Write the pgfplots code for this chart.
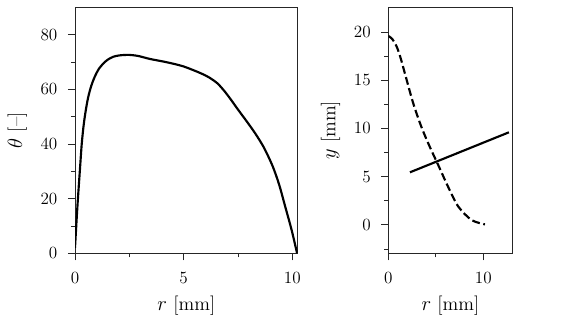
\documentclass[border=0pt]{standalone}
\usepackage{pgfplots}
\pgfplotsset{compat=1.18}
\pgfplotsset{mpl/.style={
  scale only axis,
  axis line style={black!85, line width=0.7pt},
  tick pos=left, tick align=outside,
  major tick length=4.9pt, minor tick length=2.8pt,
  every tick/.style={black!85, line width=0.6pt},
  tick label style={font=\fontsize{12}{14}\selectfont},
  xticklabel style={yshift=-5pt},
  yticklabel style={xshift=-3.9pt},
  label style={font=\fontsize{13.5}{16}\selectfont},
}}
\begin{document}
\begin{tikzpicture}[x=1pt,y=1pt]
\useasboundingbox (0,0) rectangle (399,226.1);
\begin{axis}[mpl,
  at={(52.5pt,48.8pt)}, anchor=south west,
  width=155.9pt, height=172.2pt,
  xmin=0, xmax=10.25, ymin=0, ymax=90,
  xtick={0,5,10}, minor xtick={2.5,7.5},
  ytick={0,20,40,60,80}, minor ytick={10,30,50,70},
  xlabel={$r$ [mm]}, ylabel={$\theta$ [--]},
  xlabel style={at={(axis description cs:0.5,-0.232)}, anchor=base},
  ylabel style={at={(axis description cs:-0.237,0.5)}, anchor=base, rotate=0},
]
\addplot[black, line width=1.5pt, smooth, tension=0.5] coordinates {
  (0,2) (0.11,17) (0.23,31) (0.31,40) (0.4,47) (0.5,52.5) (0.61,57.2)
  (0.75,61.3) (0.92,64.8) (1.1,67.5) (1.3,69.4) (1.5,70.8) (1.76,71.9)
  (2.05,72.4) (2.45,72.6) (2.9,72.2) (3.45,71.1) (4.22,69.9) (4.98,68.4)
  (5.75,66) (6.2,64.2) (6.55,62.2) (6.85,59.6) (7.15,56.5) (7.5,52.6)
  (7.9,48.3) (8.3,43.8) (8.7,38.6) (9.1,31.8) (9.4,25) (9.65,17.8)
  (9.97,8.5) (10.22,0)
};
\end{axis}
\begin{axis}[mpl,
  at={(271.8pt,48.8pt)}, anchor=south west,
  width=87.1pt, height=172.2pt,
  xmin=0, xmax=13.1, ymin=-2.95, ymax=22.57,
  xtick={0,10}, minor xtick={5},
  ytick={0,5,10,15,20}, minor ytick={-2.5,2.5,7.5,12.5,17.5},
  xlabel={$r$ [mm]}, ylabel={$y$ [mm]},
  xlabel style={at={(axis description cs:0.5,-0.232)}, anchor=base},
  ylabel style={at={(axis description cs:-0.425,0.5)}, anchor=base, rotate=0},
]
\addplot[black, line width=1.5pt, smooth, dash pattern=on 5.5pt off 2.5pt] coordinates {
  (0,19.6) (0.4,19.3) (0.88,18.5) (1.3,17.3) (1.75,15.7) (2.63,12.6) (3.51,10.1) (4.39,8.05)
  (5.26,6.2) (6.32,3.9) (7.37,1.9) (8.77,0.5) (10.18,0.05)
};
\addplot[black, line width=1.5pt] coordinates {(2.28,5.45) (12.7,9.6)};
\end{axis}
\end{tikzpicture}
\end{document}
